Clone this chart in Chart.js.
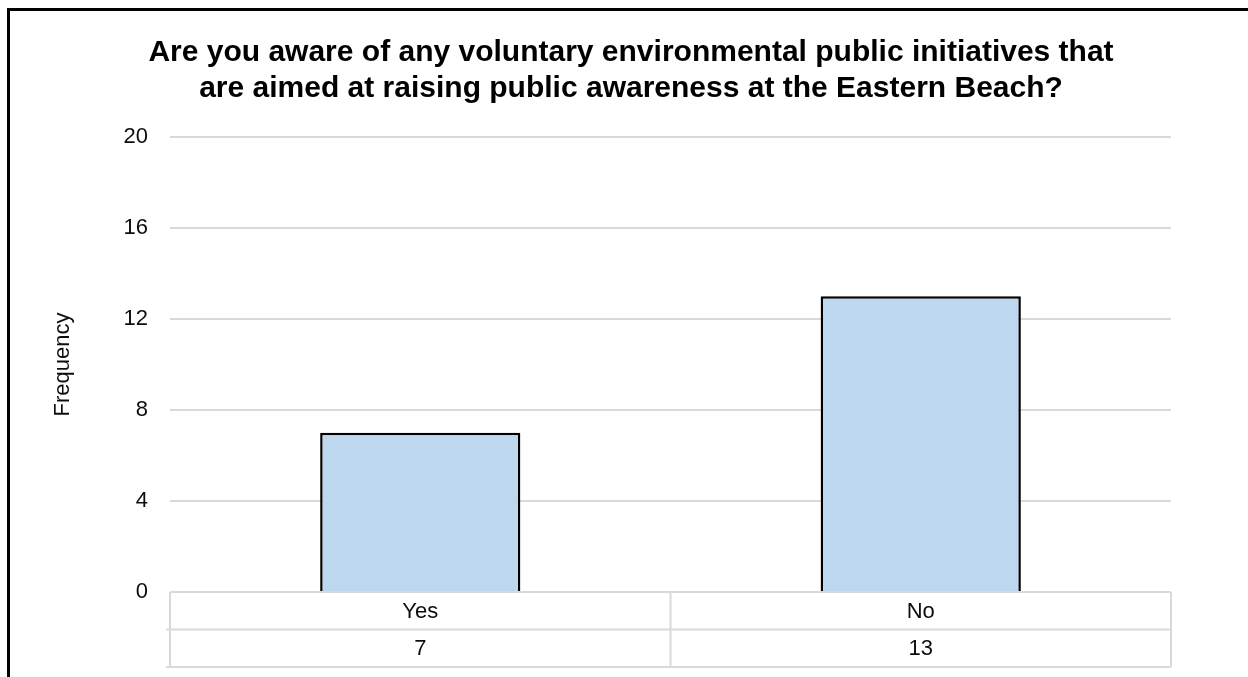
<!DOCTYPE html>
<html>
<head>
<meta charset="utf-8">
<script src="https://cdn.jsdelivr.net/npm/chart.js@4/dist/chart.umd.min.js"></script>
<style>
  html, body { margin: 0; padding: 0; background: #ffffff; }
  #wrap { width: 1248px; height: 677px; position: relative; }
  canvas { display: block; }
</style>
</head>
<body>
<div id="wrap"><canvas id="c" width="1248" height="677"></canvas></div>
<script>
// ---- Data ----
const TITLE_LINES = [
  'Are you aware of any voluntary environmental public initiatives that',
  'are aimed at raising public awareness at the Eastern Beach?'
];
const CATEGORIES = ['Yes', 'No'];
const FREQUENCY = [7, 13];
const Y_TICKS = [0, 4, 8, 12, 16, 20];
const Y_AXIS_TITLE = 'Frequency';

// ---- Styles ----
const FONT = "'Liberation Sans', Arial, Helvetica, sans-serif";
const GRID = '#d9d9d9';
const TEXT = '#0d0d0d';

const frame = {
  id: 'frame',
  beforeDraw(chart) {
    const ctx = chart.ctx;
    ctx.save();
    ctx.fillStyle = '#fff';
    ctx.fillRect(0, 0, chart.width, chart.height);
    ctx.strokeStyle = '#000';
    ctx.lineWidth = 3;
    ctx.beginPath();
    ctx.moveTo(8.5, chart.height + 2);
    ctx.lineTo(8.5, 9.5);
    ctx.lineTo(chart.width + 2, 9.5);
    ctx.stroke();
    ctx.restore();
  },
  afterDraw(chart) {
    const ctx = chart.ctx;
    ctx.save();
    ctx.fillStyle = '#000';
    ctx.font = 'bold 30px ' + FONT;
    ctx.textAlign = 'center';
    ctx.textBaseline = 'alphabetic';
    const cx = 631;
    TITLE_LINES.forEach((t, i) => ctx.fillText(t, cx, 61 + i * 36));
    ctx.restore();
  }
};

const dataTable = {
  id: 'dataTable',
  afterDraw(chart) {
    const ctx = chart.ctx;
    const area = chart.chartArea;
    const xs = chart.scales.x;
    const rowH = 37.5;
    const top = area.bottom;
    const y1 = top + rowH;
    const y2 = top + 2 * rowH;
    ctx.save();
    ctx.strokeStyle = GRID;
    ctx.lineWidth = 2;
    ctx.beginPath();
    ctx.moveTo(area.left, top); ctx.lineTo(area.right, top);
    ctx.moveTo(area.left - 4, y1); ctx.lineTo(area.right, y1);
    ctx.moveTo(area.left - 4, y2); ctx.lineTo(area.right, y2);
    const n = CATEGORIES.length;
    const step = (area.right - area.left) / n;
    for (let i = 0; i <= n; i++) {
      const x = area.left + i * step;
      ctx.moveTo(x, top); ctx.lineTo(x, y2);
    }
    ctx.stroke();
    ctx.fillStyle = TEXT;
    ctx.font = '22px ' + FONT;
    ctx.textAlign = 'center';
    ctx.textBaseline = 'middle';
    CATEGORIES.forEach((c, i) => {
      const x = xs.getPixelForValue(i);
      ctx.fillText(c, x, top + rowH / 2 + 1);
      ctx.fillText(String(FREQUENCY[i]), x, y1 + rowH / 2 + 1);
    });
    ctx.restore();
  }
};

Chart.defaults.font.family = FONT;
Chart.defaults.color = TEXT;

new Chart(document.getElementById('c'), {
  type: 'bar',
  data: {
    labels: CATEGORIES,
    datasets: [{
      label: Y_AXIS_TITLE,
      data: FREQUENCY,
      backgroundColor: '#bdd7ee',
      borderColor: '#000000',
      borderWidth: 2.5,
      borderSkipped: 'start',
      barPercentage: 0.4,
      categoryPercentage: 1.0
    }]
  },
  options: {
    responsive: false,
    animation: false,
    devicePixelRatio: 1,
    layout: { padding: { left: 0, right: 77, top: 137, bottom: 85 } },
    plugins: {
      legend: { display: false },
      title: { display: false },
      tooltip: { enabled: false }
    },
    scales: {
      x: {
        display: false,
        grid: { display: false }
      },
      y: {
        min: Y_TICKS[0],
        max: Y_TICKS[Y_TICKS.length - 1],
        afterFit(scale) { scale.width = 170; },
        afterBuildTicks(scale) { scale.ticks = Y_TICKS.map(v => ({ value: v })); },
        ticks: {
          padding: 22,
          color: TEXT,
          font: { size: 22 }
        },
        grid: { color: GRID, lineWidth: 2, drawTicks: false },
        border: { display: false },
        title: {
          display: true,
          text: Y_AXIS_TITLE,
          color: TEXT,
          font: { size: 22 },
          padding: { top: 50, bottom: 0 }
        }
      }
    }
  },
  plugins: [frame, dataTable]
});
</script>
</body>
</html>
